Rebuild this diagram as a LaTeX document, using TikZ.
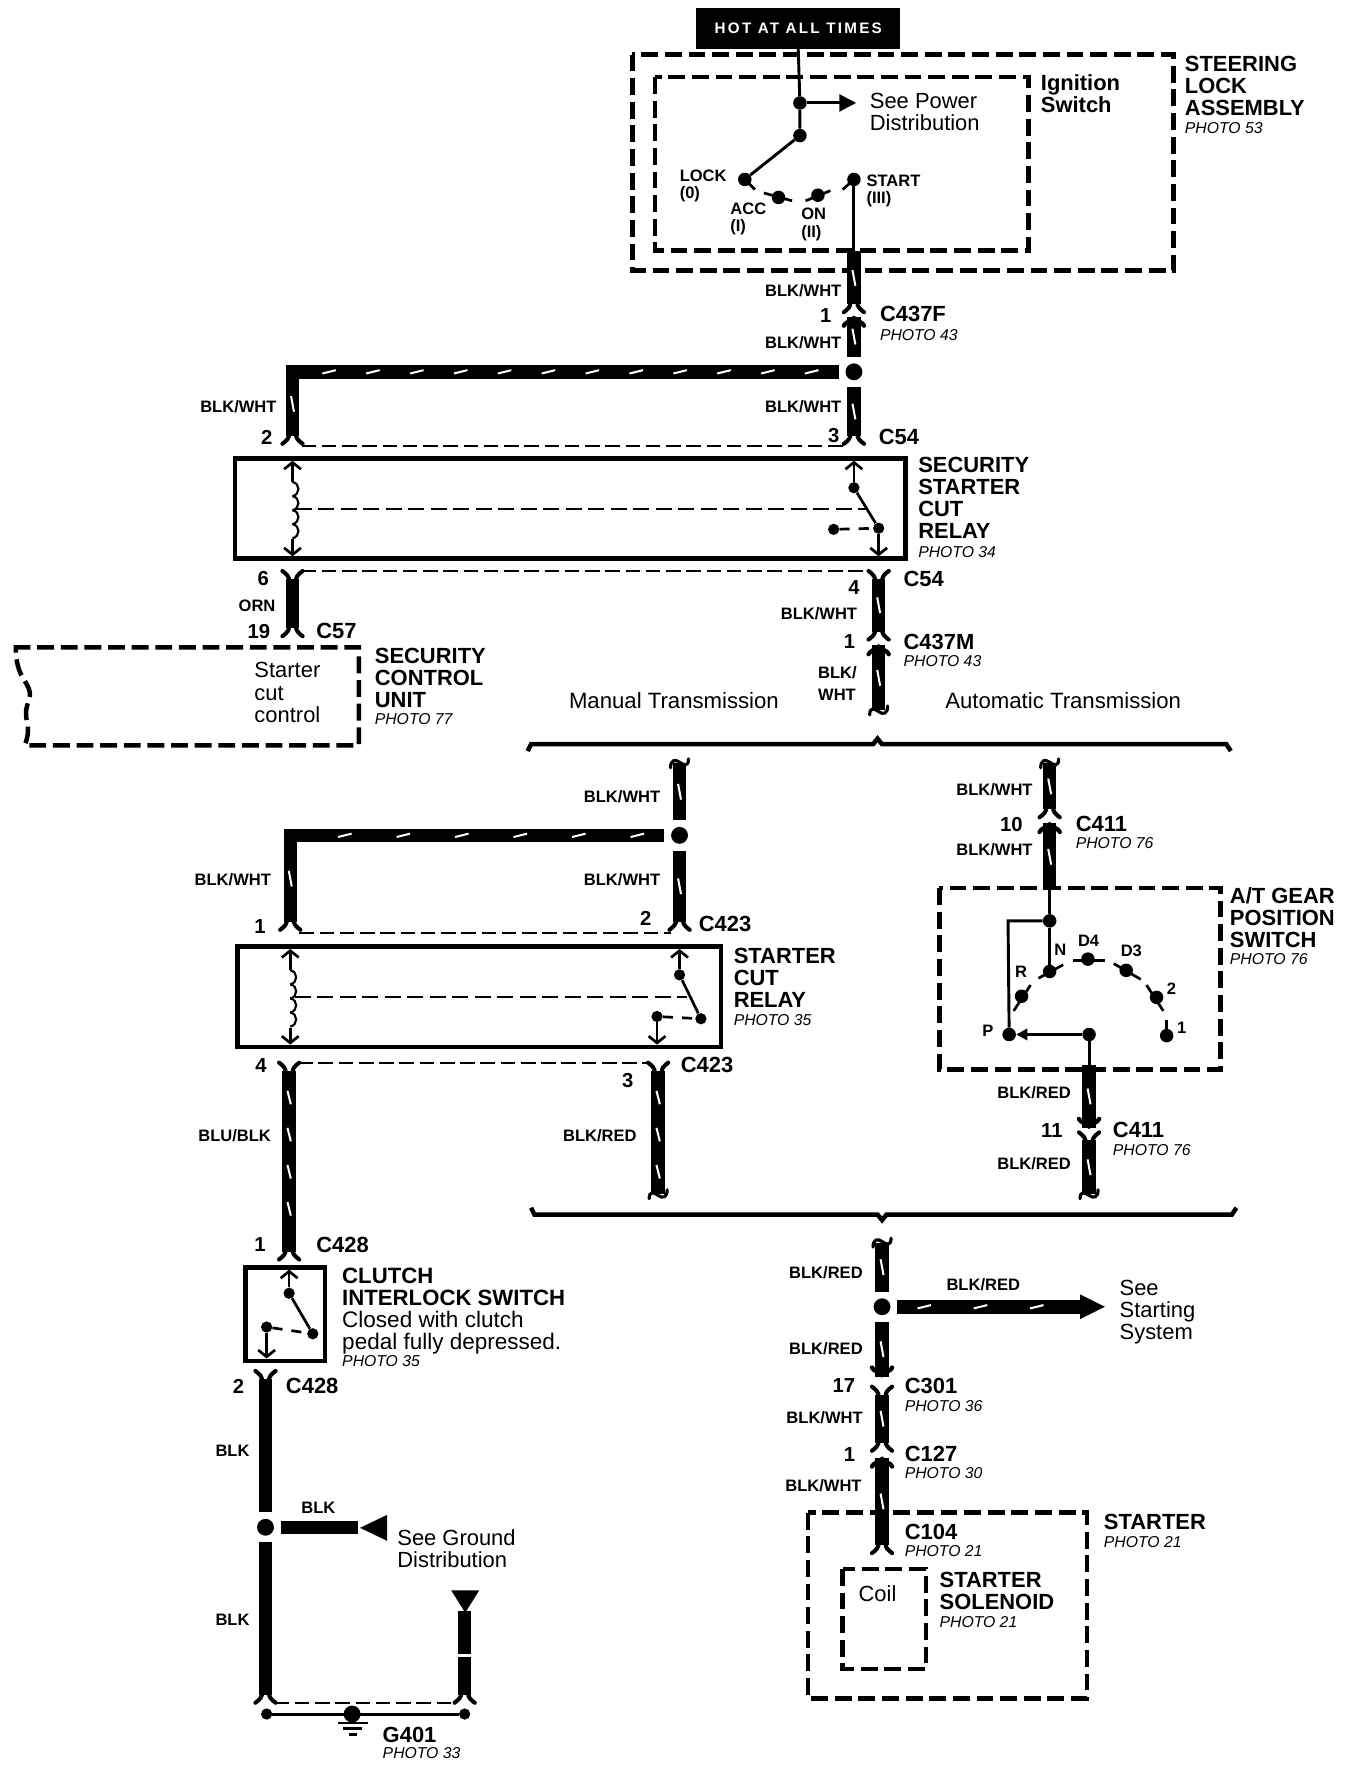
\documentclass[tikz,border=0pt]{standalone}
\usepackage{fontspec}
\setmainfont{Liberation Sans}
\newfontfamily\hotfont[LetterSpace=15]{Liberation Sans}
\usetikzlibrary{arrows.meta,decorations.markings}
\tikzset{
  wire/.style={line width=12pt},
  thinwire/.style={line width=2.6pt},
  onestripe/.style={postaction={decorate,decoration={markings,
    mark=at position .5 with {\draw[white,line width=1.8pt] (-7pt,-1.3pt) -- (7pt,1.3pt);}}}},
  stripes/.style={postaction={decorate,decoration={markings,
    mark=between positions 24pt and -8pt step #1 with {\draw[white,line width=1.8pt] (-6pt,-1.5pt) -- (6pt,1.5pt);}}}},
  dashbox/.style={line width=4pt,dash pattern=on 15pt off 6pt},
  relaybox/.style={line width=4pt},
  linkdash/.style={line width=1.8pt,dash pattern=on 13pt off 5pt},
  coildash/.style={line width=1.9pt,dash pattern=on 14pt off 6pt},
  brace/.style={line width=4pt},
  contact/.style={line width=2.4pt},
  dot/.style={circle,fill=black,inner sep=0pt,minimum size=12pt},
  jdot/.style={circle,fill=black,inner sep=0pt,minimum size=15pt,outer sep=6pt},
  partname/.style={anchor=west,align=left,inner sep=0pt,font=\fontsize{19.5}{19.6}\selectfont\bfseries},
  bodytext/.style={anchor=west,align=left,inner sep=0pt,font=\fontsize{19.5}{19.6}\selectfont},
  photo/.style={anchor=west,inner sep=0pt,font=\fontsize{14}{16}\selectfont\itshape},
  wirelabel/.style={anchor=east,inner sep=0pt,font=\fontsize{14.7}{16}\selectfont\bfseries},
  poslabel/.style={align=left,anchor=west,inner sep=0pt,font=\fontsize{14.7}{15.5}\selectfont\bfseries},
  pinlabel/.style={font=\fontsize{18}{20}\selectfont\bfseries},
  pics/fork/.style={code={
    \draw[line width=3.6pt,line cap=round] (-9,7) .. controls (-5,4) and (-3,2) .. (-3,-2);
    \draw[line width=3.6pt,line cap=round] (9,7) .. controls (5,4) and (3,2) .. (3,-2);
  }},
  pics/dome/.style={code={
    \draw[line width=3.8pt,line cap=round] (-9,8) .. controls (-6,2) and (6,2) .. (9,8);
    \fill (-6,3) -- (0,-1) -- (6,3) -- cycle;
  }},
  pics/wavy/.style={code={
    \draw[line width=2.8pt,line cap=round] (-8,4) .. controls (-8,-3) and (-4,-2) .. (0,1) .. controls (4,4) and (8,3) .. (8,-4);
  }},
  pics/coil/.style={code={
    \foreach \n in {0,12.5,25,37.5}
      \draw[line width=1.9pt] (0,\n) .. controls (7,\n+1) and (7,\n+11) .. (0,\n+12.5);
  }},
}
\begin{document}
\begin{tikzpicture}[x=1pt,y=-1pt]
  \useasboundingbox (0,-1.5) rectangle (1194.7,1568.2);

  % ignition switch and steering lock
  \node (hot) [fill=black,text=white,inner sep=0pt,minimum width=181pt,minimum height=36pt,
    font=\hotfont\fontsize{13.5}{16}\selectfont\bfseries] at (709.5,24) {HOT AT ALL TIMES};
  \draw[dashbox] (562,47) rectangle (1043,239);
  \draw[dashbox] (582,67) rectangle (914,221);
  \node (steering) [partname] at (1053,74.5) {STEERING\\LOCK\\ASSEMBLY};
  \node (steeringphoto) [photo] at (1053,112.5) {PHOTO 53};
  \node (ignition) [partname] at (925,82) {Ignition\\Switch};
  \node (power) [bodytext] at (773,98) {See Power\\Distribution};
  \node (tap) [dot] at (711,90) {};
  \node (pivot) [dot] at (711,119) {};
  \node (lock) [dot] at (662,158) {};
  \node (acc) [dot] at (692,174) {};
  \node (on) [dot] at (727,172) {};
  \node (start) [dot] at (759,158) {};
  \coordinate (powerend) at (761,90);
  \draw[thinwire] (hot.south) -- (tap) -- (pivot);
  \draw[thinwire,-{Triangle[length=15pt,width=15pt]}] (tap) -- (powerend);
  \draw[thinwire] (pivot) -- (lock);
  \draw[contact] (662,158) -- (671,167);
  \draw[contact] (679,170) -- (704,177);
  \draw[contact] (716,177) -- (738,168);
  \draw[contact] (749,167) -- (759,158);
  \node (locklabel) [poslabel] at (604,164) {LOCK\\(0)};
  \node (acclabel) [poslabel] at (649,193) {ACC\\(I)};
  \node (onlabel) [poslabel] at (712,198) {ON\\(II)};
  \node (startlabel) [poslabel] at (770,168) {START\\(III)};

  % feed down to C54
  \coordinate (swout) at (759,222);
  \coordinate (c437fa) at (759,269);
  \coordinate (c437fb) at (759,280);
  \coordinate (c54a) at (759,386);
  \coordinate (c54b) at (260,386);
  \node (split) [jdot] at (759,329) {};
  \coordinate (corner) at (260,329);
  \draw[thinwire] (start) -- (swout);
  \draw[wire,onestripe] (swout) -- (c437fa);
  \pic at (c437fa) {fork};
  \pic at (c437fb) {dome};
  \draw[wire,onestripe] (c437fb) -- (split);
  \draw[wire,onestripe] (split) -- (c54a);
  \pic at (c54a) {fork};
  \draw[wire] (split) -- (corner) -- (c54b);
  \path[stripes=39pt] (split) -- (corner);
  \path[onestripe] (corner) -- (c54b);
  \pic at (c54b) {fork};
  \node (wa) [wirelabel] at (748,257) {BLK/WHT};
  \node (wb) [wirelabel] at (748,303) {BLK/WHT};
  \node (wc) [wirelabel] at (748,360) {BLK/WHT};
  \node (wd) [wirelabel] at (246,360) {BLK/WHT};
  \node (pa) [pinlabel] at (734,279) {1};
  \node (ca) [partname] at (782,278) {C437F};
  \node (caphoto) [photo] at (782,296) {PHOTO 43};
  \node (pb) [pinlabel] at (237,387) {2};
  \node (pc) [pinlabel] at (741,386) {3};
  \node (cb) [partname] at (781,387) {C54};
  \coordinate (linka) at (268,394.5);
  \coordinate (linkb) at (750,394.5);
  \draw[linkdash] (linka) -- (linkb);

  % security starter cut relay
  \draw[relaybox] (209,406) rectangle (805,495);
  \node (secrelay) [partname] at (816,441) {SECURITY\\STARTER\\CUT\\RELAY};
  \node (secphoto) [photo] at (816,489.5) {PHOTO 34};
  \coordinate (sctop) at (260,408);
  \coordinate (scbot) at (260,493);
  \draw[contact,{Straight Barb[length=6pt,width=15pt]}-{Straight Barb[length=6pt,width=15pt]}] (sctop) -- (scbot);
  \fill[white] (257,427) rectangle (263,478);
  \pic at (260,427) {coil};
  \node (sa) [dot,minimum size=10pt] at (759,432) {};
  \node (sb) [dot,minimum size=10pt] at (781,468) {};
  \node (sc) [dot,minimum size=10pt] at (741,469) {};
  \coordinate (srtop) at (759,408);
  \coordinate (srbot) at (781,493);
  \draw[contact,{Straight Barb[length=6pt,width=15pt]}-] (srtop) -- (sa);
  \draw[contact] (sa) -- (sb);
  \draw[contact,-{Straight Barb[length=6pt,width=15pt]}] (sb) -- (srbot);
  \draw[contact,dash pattern=on 9pt off 8pt] (sc) -- (sb);
  \coordinate (scda) at (263,451);
  \coordinate (scdb) at (770,451);
  \draw[coildash] (scda) -- (scdb);

  % below the security relay
  \coordinate (c54c) at (260,513);
  \coordinate (c57) at (260,557);
  \coordinate (c54d) at (781,513);
  \coordinate (c437ma) at (781,560);
  \coordinate (c437mb) at (781,572);
  \coordinate (brka) at (781,630);
  \pic[rotate=180] at (c54c) {fork};
  \draw[wire] (c54c) -- (c57);
  \pic at (c57) {fork};
  \pic[rotate=180] at (c54d) {fork};
  \draw[wire,onestripe] (c54d) -- (c437ma);
  \pic at (c437ma) {fork};
  \pic at (c437mb) {dome};
  \draw[wire,onestripe] (c437mb) -- (brka);
  \pic at (brka) {wavy};
  \coordinate (linkc) at (268,506);
  \coordinate (linkd) at (773,506);
  \draw[linkdash] (linkc) -- (linkd);
  \node (pd) [pinlabel] at (234,513) {6};
  \node (orn) [wirelabel] at (245,537) {ORN};
  \node (pe) [pinlabel] at (230,560) {19};
  \node (cc) [partname] at (281,559) {C57};
  \node (pf) [pinlabel] at (759,521) {4};
  \node (we) [wirelabel] at (762,544) {BLK/WHT};
  \node (pg) [pinlabel] at (755,569) {1};
  \node (cd) [partname] at (803,513) {C54};
  \node (ce) [partname] at (803,569) {C437M};
  \node (cephoto) [photo] at (803,586) {PHOTO 43};
  \node (wf) [anchor=west,align=left,inner sep=0pt,font=\fontsize{14.7}{19}\selectfont\bfseries] at (727,606) {BLK/\\WHT};

  % security control unit
  \draw[dashbox] (12,574) -- (319,574) -- (319,661) -- (22,661) .. controls (30,640) and (18,640) .. (26,620) .. controls (30,605) and (14,605) .. (14,574);
  \node (cut) [bodytext] at (226,614) {Starter\\cut\\control};
  \node (secunit) [partname] at (333,601) {SECURITY\\CONTROL\\UNIT};
  \node (secunitphoto) [photo] at (333,638) {PHOTO 77};

  % transmission split
  \node (manual) [anchor=center,inner sep=0pt,font=\fontsize{19.7}{20}\selectfont] at (599,621) {Manual Transmission};
  \node (auto) [anchor=center,inner sep=0pt,font=\fontsize{19.7}{20}\selectfont] at (945,621) {Automatic Transmission};
  \draw[brace] (469,666) -- (472,660) -- (776,660) -- (780,655) -- (784,660) -- (1090,660) -- (1094,666);

  % manual side
  \coordinate (brkb) at (604,677);
  \node (msplit) [jdot] at (604,741) {};
  \coordinate (mcorner) at (258,741);
  \coordinate (c423a) at (258,818);
  \coordinate (c423b) at (604,818);
  \pic[rotate=180] at (brkb) {wavy};
  \draw[wire,onestripe] (brkb) -- (msplit);
  \draw[wire,onestripe] (msplit) -- (c423b);
  \pic at (c423b) {fork};
  \draw[wire] (msplit) -- (mcorner) -- (c423a);
  \path[stripes=52pt] (msplit) -- (mcorner);
  \path[onestripe] (mcorner) -- (c423a);
  \pic at (c423a) {fork};
  \node (wg) [wirelabel] at (587,707) {BLK/WHT};
  \node (wh) [wirelabel] at (241,780) {BLK/WHT};
  \node (wi) [wirelabel] at (587,780) {BLK/WHT};
  \node (ph) [pinlabel] at (231,822) {1};
  \node (pi) [pinlabel] at (574,815) {2};
  \node (cf) [partname] at (621,820) {C423};
  \coordinate (linke) at (266,828);
  \coordinate (linkf) at (596,828);
  \draw[linkdash] (linke) -- (linkf);

  % starter cut relay
  \draw[relaybox] (211,840) rectangle (641,929);
  \node (cutrelay) [partname] at (652,867.5) {STARTER\\CUT\\RELAY};
  \node (cutphoto) [photo] at (652,905) {PHOTO 35};
  \coordinate (mctop) at (258,842);
  \coordinate (mcbot) at (258,927);
  \draw[contact,{Straight Barb[length=6pt,width=15pt]}-{Straight Barb[length=6pt,width=15pt]}] (mctop) -- (mcbot);
  \fill[white] (255,861) rectangle (261,912);
  \pic at (258,861) {coil};
  \node (ma) [dot,minimum size=10pt] at (604,865) {};
  \node (mb) [dot,minimum size=10pt] at (623,904) {};
  \node (mc) [dot,minimum size=10pt] at (584,902) {};
  \coordinate (mrtop) at (604,842);
  \coordinate (mrbot) at (584,927);
  \draw[contact,{Straight Barb[length=6pt,width=15pt]}-] (mrtop) -- (ma);
  \draw[contact] (ma) -- (mb);
  \draw[contact,-{Straight Barb[length=6pt,width=15pt]}] (mc) -- (mrbot);
  \draw[contact,dash pattern=on 9pt off 8pt] (mc) -- (mb);
  \coordinate (mcda) at (262,885);
  \coordinate (mcdb) at (611,885);
  \draw[coildash] (mcda) -- (mcdb);

  % below the starter cut relay
  \coordinate (c423c) at (257,950);
  \coordinate (c423d) at (585,950);
  \coordinate (brkc) at (585,1060);
  \coordinate (c428a) at (257,1111);
  \pic[rotate=180] at (c423c) {fork};
  \draw[wire,stripes=33pt] (c423c) -- (c428a);
  \pic at (c428a) {fork};
  \pic[rotate=180] at (c423d) {fork};
  \draw[wire,stripes=33pt] (c423d) -- (brkc);
  \pic at (brkc) {wavy};
  \coordinate (linkg) at (265,943);
  \coordinate (linkh) at (577,943);
  \draw[linkdash] (linkg) -- (linkh);
  \node (pj) [pinlabel] at (232,946) {4};
  \node (pk) [pinlabel] at (558,959) {3};
  \node (cg) [partname] at (605,945) {C423};
  \node (wj) [wirelabel] at (241,1008) {BLU/BLK};
  \node (wk) [wirelabel] at (566,1008) {BLK/RED};
  \node (pl) [pinlabel] at (231,1105) {1};
  \node (ch) [partname] at (281,1105) {C428};

  % clutch interlock switch
  \draw[relaybox] (218,1125) rectangle (289,1208);
  \node (clutch) [partname,font=\fontsize{19.7}{19.6}\selectfont\bfseries] at (304,1142) {CLUTCH\\INTERLOCK SWITCH};
  \node (closed) [bodytext,font=\fontsize{20}{19.6}\selectfont] at (304,1183) {Closed with clutch\\pedal fully depressed.};
  \node (clutchphoto) [photo] at (304,1208.5) {PHOTO 35};
  \node (ka) [dot,minimum size=10pt] at (257,1148) {};
  \node (kb) [dot,minimum size=10pt] at (278,1184) {};
  \node (kc) [dot,minimum size=10pt] at (237,1178) {};
  \coordinate (krtop) at (257,1127);
  \coordinate (krbot) at (237,1206);
  \draw[contact,{Straight Barb[length=6pt,width=15pt]}-] (krtop) -- (ka);
  \draw[contact] (ka) -- (kb);
  \draw[contact,-{Straight Barb[length=6pt,width=15pt]}] (kc) -- (krbot);
  \draw[contact,dash pattern=on 9pt off 8pt] (kc) -- (kb);

  % ground side
  \coordinate (c428b) at (236,1224);
  \node (gsplit) [jdot] at (236,1356) {};
  \coordinate (ga) at (236,1505);
  \coordinate (gb) at (413,1505);
  \coordinate (gc) at (413,1430);
  \coordinate (gd) at (318,1356);
  \pic[rotate=180] at (c428b) {fork};
  \draw[wire] (c428b) -- (gsplit);
  \draw[wire] (gsplit) -- (ga);
  \pic at (ga) {fork};
  \draw[wire] (gsplit) -- (gd);
  \fill (320,1356.5) -- (344,1345) -- (344,1368) -- cycle;
  \draw[wire] (gc) -- (gb);
  \fill[white] (405,1469) rectangle (421,1471.5);
  \pic at (gb) {fork};
  \fill (401,1412) -- (426,1412) -- (413.5,1432) -- cycle;
  \coordinate (linki) at (244,1512);
  \coordinate (linkj) at (405,1512);
  \draw[linkdash] (linki) -- (linkj);
  \node (ge) [dot,minimum size=10pt] at (237,1522) {};
  \node (gf) [dot,minimum size=10pt] at (413,1522) {};
  \node (gnd) [dot,minimum size=15pt] at (313,1522) {};
  \draw[thinwire] (ge) -- (gf);
  \draw[line width=2.2pt] (300,1530) -- (327,1530);
  \draw[line width=2.2pt] (305,1535) -- (322,1535);
  \draw[line width=2.2pt] (310,1540) -- (317,1540);
  \node (pm) [pinlabel] at (212,1231) {2};
  \node (ci) [partname] at (254,1230) {C428};
  \node (wl) [wirelabel] at (222,1288) {BLK};
  \node (wm) [wirelabel,anchor=center] at (283,1339) {BLK};
  \node (wn) [wirelabel] at (222,1438) {BLK};
  \node (ground) [bodytext] at (353,1375) {See Ground\\Distribution};
  \node (cj) [partname] at (340,1541) {G401};
  \node (cjphoto) [photo] at (340,1557) {PHOTO 33};

  % automatic side
  \coordinate (brkd) at (933,677);
  \coordinate (c411a) at (933,718);
  \coordinate (c411b) at (933,730);
  \coordinate (atin) at (933,790);
  \pic[rotate=180] at (brkd) {wavy};
  \draw[wire,onestripe] (brkd) -- (c411a);
  \pic at (c411a) {fork};
  \pic at (c411b) {dome};
  \draw[wire,onestripe] (c411b) -- (atin);
  \node (wo) [wirelabel] at (918,700) {BLK/WHT};
  \node (wp) [wirelabel] at (918,754) {BLK/WHT};
  \node (pn) [pinlabel] at (899,731) {10};
  \node (ck) [partname] at (956,731) {C411};
  \node (ckphoto) [photo] at (956,748) {PHOTO 76};

  % a/t gear position switch
  \draw[dashbox] (835,788) rectangle (1085,949);
  \node (gear) [partname] at (1093,814) {A/T GEAR\\POSITION\\SWITCH};
  \node (gearphoto) [photo] at (1093,851) {PHOTO 76};
  \node (gtap) [dot] at (933,817) {};
  \node (gn) [dot] at (933,862) {};
  \node (gp) [dot] at (897,918) {};
  \node (gr) [dot] at (908,884) {};
  \node (gdf) [dot] at (967,851) {};
  \node (gdt) [dot] at (1001,861) {};
  \node (gtwo) [dot] at (1028,885) {};
  \node (gone) [dot] at (1037,919) {};
  \node (gcom) [dot] at (968,918) {};
  \coordinate (gleft) at (896,817);
  \draw[thinwire] (atin) -- (gtap) -- (gn);
  \draw[thinwire] (gtap) -- (gleft) -- (gp);
  \draw[thinwire,-{Triangle[length=10pt,width=10pt]}] (gcom) -- (gp);
  \draw[contact] (901,897) -- (916,874);
  \draw[contact] (923,868) -- (945,856);
  \draw[contact] (954,852) -- (982,852);
  \draw[contact] (990,855) -- (1014,869);
  \draw[contact] (1019,874) -- (1034,897);
  \draw[contact] (1037,919) -- (1037,905);
  \node (lp) [poslabel] at (873,915) {P};
  \node (lr) [poslabel] at (902,862) {R};
  \node (ln) [poslabel] at (937,843) {N};
  \node (ldf) [poslabel] at (958,835) {D4};
  \node (ldt) [poslabel] at (996,844) {D3};
  \node (ltwo) [poslabel] at (1037,877) {2};
  \node (lone) [poslabel] at (1046,912) {1};
  \coordinate (gout) at (968,945);
  \coordinate (c411c) at (968,1001);
  \coordinate (c411d) at (968,1012);
  \coordinate (brke) at (968,1060);
  \draw[thinwire] (gcom) -- (gout);
  \draw[wire,onestripe] (gout) -- (c411c);
  \pic[rotate=180] at (c411c) {dome};
  \pic[rotate=180] at (c411d) {fork};
  \draw[wire,onestripe] (c411d) -- (brke);
  \pic at (brke) {wavy};
  \node (wq) [wirelabel] at (952,970) {BLK/RED};
  \node (wr) [wirelabel] at (952,1033) {BLK/RED};
  \node (po) [pinlabel] at (935,1003) {11};
  \node (cl) [partname] at (989,1003) {C411};
  \node (clphoto) [photo] at (989,1021) {PHOTO 76};

  % merge and starter
  \draw[brace] (472,1072) -- (475,1078) -- (780,1078) -- (784,1083) -- (788,1078) -- (1095,1078) -- (1099,1072);
  \coordinate (brkf) at (784,1103);
  \node (ssplit) [jdot] at (784,1160) {};
  \coordinate (sysend) at (960,1160);
  \coordinate (c301a) at (784,1222);
  \coordinate (c301b) at (784,1238);
  \coordinate (c127a) at (784,1281);
  \coordinate (c127b) at (784,1294);
  \coordinate (c104) at (784,1372);
  \pic[rotate=180] at (brkf) {wavy};
  \draw[wire,onestripe] (brkf) -- (ssplit);
  \draw[wire,stripes=50pt] (ssplit) -- (sysend);
  \fill (960,1149) -- (982,1160) -- (960,1171) -- cycle;
  \draw[wire,onestripe] (ssplit) -- (c301a);
  \pic[rotate=180] at (c301a) {dome};
  \pic[rotate=180] at (c301b) {fork};
  \draw[wire,onestripe] (c301b) -- (c127a);
  \pic at (c127a) {fork};
  \pic at (c127b) {dome};
  \draw[wire,onestripe] (c127b) -- (c104);
  \pic at (c104) {fork};
  \node (ws) [wirelabel] at (767,1130) {BLK/RED};
  \node (wt) [wirelabel,anchor=center] at (874,1140) {BLK/RED};
  \node (wu) [wirelabel] at (767,1197) {BLK/RED};
  \node (wv) [wirelabel] at (767,1259) {BLK/WHT};
  \node (ww) [wirelabel] at (766,1319) {BLK/WHT};
  \node (system) [bodytext] at (995,1165) {See\\Starting\\System};
  \node (pq) [pinlabel] at (750,1230) {17};
  \node (cm) [partname] at (804,1230) {C301};
  \node (cmphoto) [photo] at (804,1248) {PHOTO 36};
  \node (pr) [pinlabel] at (755,1291) {1};
  \node (cn) [partname] at (804,1291) {C127};
  \node (cnphoto) [photo] at (804,1308) {PHOTO 30};

  \draw[dashbox] (718,1343) rectangle (966,1508);
  \draw[dashbox] (749,1393) rectangle (823,1482);
  \node (starter) [partname] at (981,1351) {STARTER};
  \node (starterphoto) [photo] at (981,1369) {PHOTO 21};
  \node (co) [partname] at (804,1360) {C104};
  \node (cophoto) [photo] at (804,1377) {PHOTO 21};
  \node (coil) [anchor=center,inner sep=0pt,font=\fontsize{19.5}{20}\selectfont] at (780,1415) {Coil};
  \node (solenoid) [partname] at (835,1413) {STARTER\\SOLENOID};
  \node (solphoto) [photo] at (835,1440) {PHOTO 21};
\end{tikzpicture}
\end{document}
